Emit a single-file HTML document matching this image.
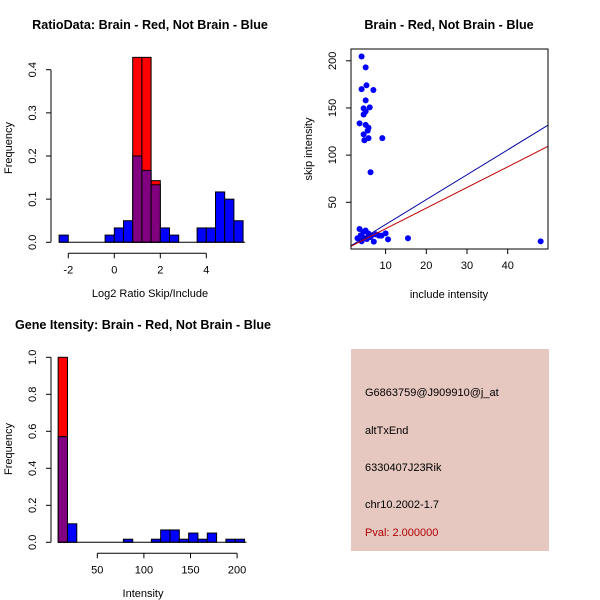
<!DOCTYPE html>
<html><head><meta charset="utf-8"><style>
body{margin:0;background:#fff;}
svg{display:block;font-family:"Liberation Sans",Arial,sans-serif;}
</style></head><body>
<svg id="fig" width="600" height="600" viewBox="0 0 600 600">
<rect width="600" height="600" fill="#fff"/>
<g id="p1"></g>
<g id="p2"></g>
<g id="p3"></g>
<g>
<rect x="351" y="349" width="198" height="202" fill="#e6c8c1"/>
<text x="365" y="396" font-size="11">G6863759@J909910@j_at</text>
<text x="365" y="434" font-size="11">altTxEnd</text>
<text x="365" y="471" font-size="11">6330407J23Rik</text>
<text x="365" y="508" font-size="11">chr10.2002-1.7</text>
<text x="365" y="536" font-size="11" fill="#b00000">Pval: 2.000000</text>
</g>
</svg>
<script>
// ---- Ratio histogram data ----
const ratioBinStart = -2.4;
const ratioBinWidth = 0.4;
const ratioBlue = [0.0167,0,0,0,0,0.0167,0.0333,0.05,0.2,0.1667,0.1333,0.0333,0.0167,0,0,0.0333,0.0333,0.1167,0.1,0.05];
const ratioRed  = [0,0,0,0,0,0,0,0,0.4286,0.4286,0.1429,0,0,0,0,0,0,0,0,0];
const ratioXTicks = [-2,0,2,4];
const ratioYTicks = ["0.0","0.1","0.2","0.3","0.4"];
// ---- Intensity histogram data ----
const intBinStart = 8;
const intBinWidth = 10;
const intBlue = [0.5714,0.1,0,0,0,0,0,0.0167,0,0,0.0167,0.0667,0.0667,0.0167,0.05,0.0167,0.05,0,0.0167,0.0167];
const intRed  = [1.0,0,0,0,0,0,0,0,0,0,0,0,0,0,0,0,0,0,0,0];
const intXTicks = [50,100,150,200];
const intYTicks = ["0.0","0.2","0.4","0.6","0.8","1.0"];
// ---- Scatter data ----
const scatterX = [4.1,5.1,4.1,5.3,7.0,5.1,6.1,4.6,5.1,4.6,3.6,5.1,5.8,5.6,4.6,5.8,4.8,9.2,6.3,
  3.6,4.6,5.1,4.1,3.1,4.1,5.8,6.5,7.1,8.4,9.0,10.0,10.6,15.5,48.1,5.4,6.2,4.8,7.6,3.9];
const scatterY = [204.6,193,170,174,169,158,150.6,149.6,146.4,143,133.7,132,129,126,122,118,115.7,118,81.8,
  21.7,18.9,20,14.6,11.8,8.6,16.8,14.6,8.3,14.6,14.6,17,10.7,11.8,8.6,11,13,12,16,15];
const fitBlue = [0, 2.64];
const fitRed  = [0, 2.19];
const scatterXTicks = [10,20,30,40];
const scatterYTicks = [50,100,150,200];

const NS="http://www.w3.org/2000/svg";
function mk(parent,tag,attrs,txt){const e=document.createElementNS(NS,tag);for(const k in attrs)e.setAttribute(k,attrs[k]);if(txt!==undefined)e.textContent=txt;parent.appendChild(e);return e;}

function hist(g,o){
  const sx=v=>o.x0+(v-o.d0)*o.kx, sy=v=>o.y0-v*o.ky;
  o.red.forEach((v,i)=>{ if(v<=0)return;
    const a=o.bs+i*o.bw;
    const r=mk(g,'rect',{x:sx(a),y:sy(v),width:o.bw*o.kx,height:v*o.ky,fill:'#ff0000',stroke:'#000','stroke-width':1});
    
    
  });
  o.blue.forEach((v,i)=>{ if(v<=0)return;
    const a=o.bs+i*o.bw;
    const col=o.red[i]>0?'#800080':'#0000ff';
    const r=mk(g,'rect',{x:sx(a),y:sy(v),width:o.bw*o.kx,height:v*o.ky,fill:col,stroke:'#000','stroke-width':1});
    
    
  });
  const yv=o.yt.map(Number);
  mk(g,'line',{x1:o.ax,x2:o.ax,y1:sy(yv[0]),y2:sy(yv[yv.length-1]),stroke:'#000'});
  o.yt.forEach(t=>{const y=sy(+t);mk(g,'line',{x1:o.ax-5,x2:o.ax,y1:y,y2:y,stroke:'#000'});
    const tx=mk(g,'text',{x:o.ax-15,y:y,'font-size':11,'text-anchor':'middle',transform:`rotate(-90 ${o.ax-15} ${y})`},t);
    
    });
  mk(g,'line',{x1:sx(o.bs),x2:sx(o.bs+o.blue.length*o.bw)+2,y1:o.y0,y2:o.y0,stroke:'#000'});
  const xa=o.y0+11;
  mk(g,'line',{x1:sx(o.xt[0]),x2:sx(o.xt[o.xt.length-1]),y1:xa,y2:xa,stroke:'#000'});
  o.xt.forEach(t=>{const x=sx(t);mk(g,'line',{x1:x,x2:x,y1:xa,y2:xa+5,stroke:'#000'});
    const tx=mk(g,'text',{x:x,y:xa+20,'font-size':11,'text-anchor':'middle'},String(t));
    
    });
  const xl=mk(g,'text',{x:o.xlx,y:o.xly,'font-size':11,'text-anchor':'middle'},o.xl);
  
  
  const yl=mk(g,'text',{x:12,y:o.yly,'font-size':11,'text-anchor':'middle',transform:`rotate(-90 12 ${o.yly})`},'Frequency');
  
  
  const ti=mk(g,'text',{x:o.tx,y:o.ty,'font-size':12.6,'font-weight':'bold','text-anchor':'middle'},o.title);
  
  
}

hist(document.getElementById('p1'),{x0:114.3,d0:0,kx:23,y0:242.3,ky:431.5,bs:ratioBinStart,bw:ratioBinWidth,
  red:ratioRed,blue:ratioBlue,yt:ratioYTicks,xt:ratioXTicks,ax:51,xl:'Log2 Ratio Skip/Include',xlx:150,xly:297,yly:148,
  title:'RatioData: Brain - Red, Not Brain - Blue',tx:150,ty:29});
hist(document.getElementById('p3'),{x0:50.7,d0:0,kx:0.932,y0:542.3,ky:185,bs:intBinStart,bw:intBinWidth,
  red:intRed,blue:intBlue,yt:intYTicks,xt:intXTicks,ax:51,xl:'Intensity',xlx:143,xly:597,yly:449,
  title:'Gene Itensity: Brain - Red, Not Brain - Blue',tx:143,ty:329});

(function(){
  const g=document.getElementById('p2');
  const L=351,R=548,T=49,B=249;
  const xd=[1.5,49.9], yd=[0.45,212.5];
  const sx=v=>L+(v-xd[0])/(xd[1]-xd[0])*(R-L);
  const sy=v=>B-(v-yd[0])/(yd[1]-yd[0])*(B-T);
  const cp=mk(g,'clipPath',{id:'sc'});mk(cp,'rect',{x:L,y:T,width:R-L,height:B-T});
  const dots=mk(g,'g',{});
  scatterX.forEach((x,i)=>{const c=mk(dots,'circle',{cx:sx(x),cy:sy(scatterY[i]),r:3,fill:'#0000ff'});
    
    });
  [[fitBlue,'#0000a0','blue-fit-line'],[fitRed,'#c00000','red-fit-line']].forEach(([f,c,n])=>{
    const l=mk(g,'line',{x1:sx(xd[0]),y1:sy(f[0]+f[1]*xd[0]),x2:sx(xd[1]),y2:sy(f[0]+f[1]*xd[1]),stroke:c,'stroke-width':1,'clip-path':'url(#sc)'});
    
    });
  mk(g,'rect',{x:L,y:T,width:R-L,height:B-T,fill:'none',stroke:'#000'});
  scatterXTicks.forEach(t=>{const x=sx(t);mk(g,'line',{x1:x,x2:x,y1:B,y2:B+5,stroke:'#000'});
    const tx=mk(g,'text',{x:x,y:B+20,'font-size':11,'text-anchor':'middle'},String(t));
    
    });
  scatterYTicks.forEach(t=>{const y=sy(t);mk(g,'line',{x1:L-5,x2:L,y1:y,y2:y,stroke:'#000'});
    const tx=mk(g,'text',{x:L-15,y:y,'font-size':11,'text-anchor':'middle',transform:`rotate(-90 ${L-15} ${y})`},String(t));
    
    });
  const xl=mk(g,'text',{x:449,y:298,'font-size':11,'text-anchor':'middle'},'include intensity');
  
  
  const yl=mk(g,'text',{x:312,y:149,'font-size':11,'text-anchor':'middle',transform:'rotate(-90 312 149)'},'skip intensity');
  
  
  const ti=mk(g,'text',{x:449,y:29,'font-size':12.6,'font-weight':'bold','text-anchor':'middle'},'Brain - Red, Not Brain - Blue');
  
  
})();
</script>
</body></html>
